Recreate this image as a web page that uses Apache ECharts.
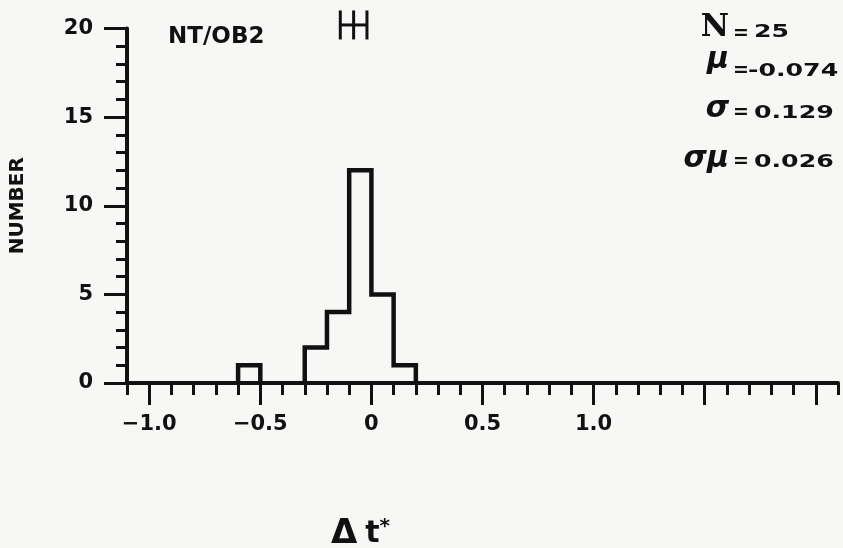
<!DOCTYPE html>
<html>
<head>
<meta charset="utf-8">
<script src="https://cdn.jsdelivr.net/npm/echarts@6/dist/echarts.min.js"></script>
<style>
  html, body { margin: 0; padding: 0; background: #f7f7f6; }
  #chart { width: 843px; height: 548px; }
</style>
</head>
<body>
<div id="chart"></div>
<script>
// ---- data ----
const binStart = [-0.6, -0.3, -0.2, -0.1, 0.0, 0.1];
const binEnd   = [-0.5, -0.2, -0.1, 0.0, 0.1, 0.2];
const counts   = [1, 2, 4, 12, 5, 1];

const xMajorTicks  = [-1.0, -0.5, 0, 0.5, 1.0, 1.5, 2.0];
const xLabelValues = [-1.0, -0.5, 0, 0.5, 1.0];
const xLabelTexts  = ['\u22121.0', '\u22120.5', '0', '0.5', '1.0'];

// mean marker (error bar) at top of plot: [low, centre, high], height
const markerX = [-0.14, -0.08, -0.02];
const markerY = 20.2;

const statSymbols = ['N', '\u03bc', '\u03c3', '\u03c3\u03bc'];
const statValues  = ['25', '-0.074', '0.129', '0.026'];

const ink = '#111111';
const font = 'DejaVu Sans';

// ---- build the histogram outline from the bins ----
const outline = [];
for (let i = 0; i < counts.length; i++) {
  const contiguous = i > 0 && Math.abs(binStart[i] - binEnd[i - 1]) < 1e-9;
  if (!contiguous) {
    if (i > 0) { outline.push([binEnd[i - 1], 0]); outline.push(['-', '-']); }
    outline.push([binStart[i], 0]);
  }
  outline.push([binStart[i], counts[i]]);
  outline.push([binEnd[i], counts[i]]);
}
outline.push([binEnd[counts.length - 1], 0]);

const chart = echarts.init(document.getElementById('chart'));

const statRowsY = [
  { sym: 27.5, eq: 34, val: 32.5 },
  { sym: 60,   eq: 71, val: 71 },
  { sym: 109.5, eq: 113, val: 113.5 },
  { sym: 159.5, eq: 162, val: 162.5 }
];
const statGraphics = [];
statSymbols.forEach((s, i) => {
  const r = statRowsY[i];
  statGraphics.push({
    type: 'text', x: 729, y: r.sym,
    style: {
      text: s, align: 'right', verticalAlign: 'middle', fill: ink,
      font: i === 0 ? 'bold 31px "DejaVu Serif"' : 'italic bold 30px "DejaVu Sans"'
    }
  });
  statGraphics.push({
    type: 'text', x: 741, y: r.eq,
    style: { text: '=', align: 'center', verticalAlign: 'middle', fill: ink, font: 'bold 19px "DejaVu Sans"' }
  });
  statGraphics.push({
    type: 'text', x: i === 1 ? 748 : 754, y: r.val, scaleX: 1.4,
    style: { text: statValues[i], align: 'left', verticalAlign: 'middle', fill: ink, font: 'bold 18px "DejaVu Sans"' }
  });
});

const option = {
  backgroundColor: '#f7f7f6',
  animation: false,
  grid: { left: 127, right: 5, top: 28.5, bottom: 165, containLabel: false, outerBoundsMode: 'none' },
  xAxis: [
    {
      type: 'value', min: -1.1, max: 2.1, interval: 0.1,
      axisLine: { show: true, onZero: false, lineStyle: { color: ink, width: 4 } },
      axisTick: { show: true, length: 12, lineStyle: { color: ink, width: 3 } },
      axisLabel: { show: false },
      splitLine: { show: false },
      name: '{d|\u0394}{t|t}{s|*}',
      nameLocation: 'middle',
      nameGap: 134,
      nameTextStyle: {
        padding: [0, 244, 0, 0],
        rich: {
          d: { fontFamily: font, fontWeight: 'bold', fontSize: 34, color: ink },
          t: { fontFamily: font, fontWeight: 'bold', fontSize: 30, color: ink, padding: [0, 0, 0, 8] },
          s: { fontFamily: font, fontWeight: 'bold', fontSize: 20, color: ink, verticalAlign: 'top' }
        }
      }
    },
    {
      type: 'value', min: -1.1, max: 2.1, position: 'bottom',
      axisLine: { show: false, onZero: false },
      axisTick: { show: true, length: 22, customValues: xMajorTicks, lineStyle: { color: ink, width: 3 } },
      axisLabel: {
        show: true, customValues: xLabelValues, margin: 31,
        fontFamily: font, fontWeight: 'bold', fontSize: 21, color: ink,
        formatter: function (v) {
          for (let i = 0; i < xLabelValues.length; i++) {
            if (Math.abs(v - xLabelValues[i]) < 1e-9) return xLabelTexts[i];
          }
          return '';
        }
      },
      splitLine: { show: false }
    }
  ],
  yAxis: {
    type: 'value', min: 0, max: 20, interval: 5,
    axisLine: { show: true, onZero: false, lineStyle: { color: ink, width: 4 } },
    axisTick: { show: true, length: 23, lineStyle: { color: ink, width: 3 } },
    minorTick: { show: true, splitNumber: 5, length: 11, lineStyle: { color: ink, width: 3 } },
    axisLabel: { margin: 34, fontFamily: font, fontWeight: 'bold', fontSize: 21, color: ink },
    splitLine: { show: false },
    name: 'NUMBER',
    nameLocation: 'middle',
    nameGap: 99,
    nameTextStyle: { fontFamily: font, fontWeight: 'bold', fontSize: 20, color: ink }
  },
  graphic: [
    {
      type: 'text', x: 168, y: 37,
      style: { text: 'NT/OB2', align: 'left', verticalAlign: 'middle', fill: ink, font: 'bold 23px "DejaVu Sans"' }
    }
  ].concat(statGraphics),
  series: [
    {
      type: 'line',
      xAxisIndex: 0,
      data: outline,
      symbol: 'none',
      connectNulls: false,
      lineStyle: { color: ink, width: 4.5, join: 'miter', cap: 'butt' },
      z: 3
    },
    {
      type: 'custom',
      xAxisIndex: 0,
      clip: false,
      data: [[markerX[0], markerX[1], markerX[2], markerY]],
      renderItem: function (params, api) {
        const pl = api.coord([api.value(0), api.value(3)]);
        const pm = api.coord([api.value(1), api.value(3)]);
        const ph = api.coord([api.value(2), api.value(3)]);
        const h = 14.5;
        const st = { stroke: ink, lineWidth: 3, fill: null };
        return {
          type: 'group',
          children: [
            { type: 'line', shape: { x1: pl[0], y1: pl[1], x2: ph[0], y2: ph[1] }, style: st },
            { type: 'line', shape: { x1: pl[0], y1: pl[1] - h, x2: pl[0], y2: pl[1] + h }, style: st },
            { type: 'line', shape: { x1: pm[0], y1: pm[1] - h, x2: pm[0], y2: pm[1] + h }, style: st },
            { type: 'line', shape: { x1: ph[0], y1: ph[1] - h, x2: ph[0], y2: ph[1] + h }, style: st }
          ]
        };
      },
      z: 3
    }
  ]
};
chart.setOption(option);
</script>
</body>
</html>
